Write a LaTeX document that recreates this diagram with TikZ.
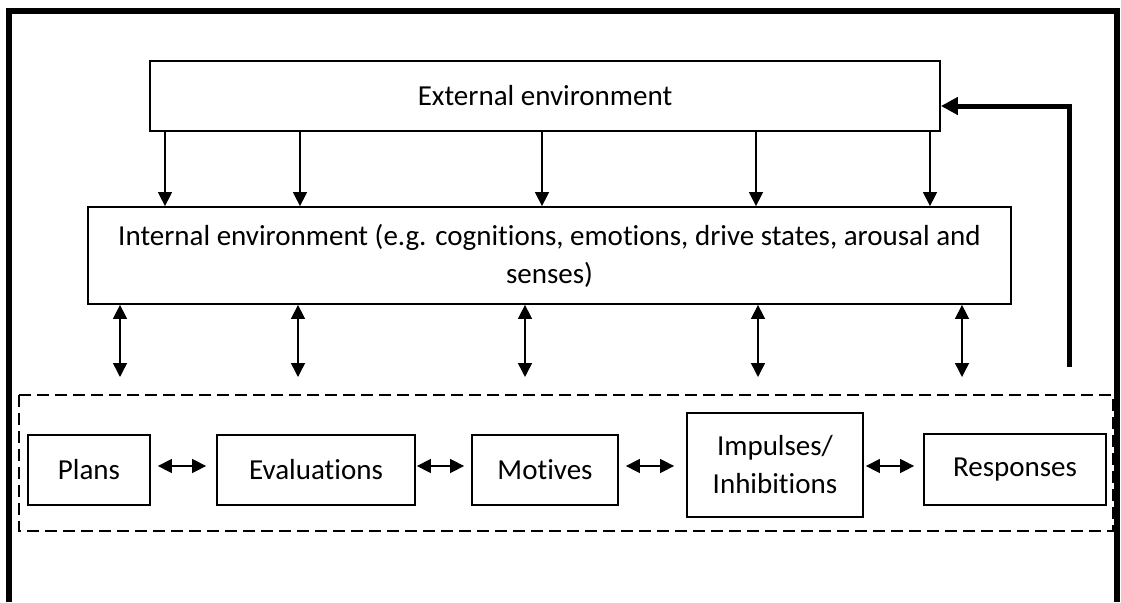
\documentclass[tikz,border=0pt]{standalone}
\usepackage{fontspec}
\setmainfont{Carlito}[Ligatures={NoCommon,NoContextual}]
\usetikzlibrary{arrows.meta,calc}
\begin{document}
\begin{tikzpicture}[x=1pt,y=-1pt,
  box/.style={draw,line width=1.8pt,inner sep=0pt,align=center,
    font=\fontsize{29}{38}\selectfont},
  thinline/.style={line width=1.5pt},
  tipend/.style={-{Triangle[length=14pt,width=14pt]}},
  tipboth/.style={{Triangle[length=14pt,width=14pt]}-{Triangle[length=14pt,width=14pt]}},
  frame/.style={line width=6pt},
  feedback/.style={line width=5pt,-{Triangle[length=17pt,width=17pt]}},
  group/.style={line width=2.5pt,dash pattern=on 12pt off 6pt},
]
\useasboundingbox (0,0) rectangle (1121,602);
\fill[white] (0,0) rectangle (1121,602);

% open outer frame
\draw[frame] (8.5,602) -- (8.5,11) -- (1117,11) -- (1117,602);

% dashed grouping of the process boxes
\draw[group] (19,395) rectangle (1113,531);

% environment boxes
\node[box,minimum width=790pt,minimum height=70pt] (ext) at (545,96) {External environment};
\node[box,minimum width=923pt,minimum height=97pt] (int) at (549.5,255.5)
  {Internal environment (e.g. cognitions, emotions, drive states, arousal and\\senses)};

% process boxes
\node[box,minimum width=122pt,minimum height=70pt] (plans) at (89,470) {Plans};
\node[box,minimum width=198pt,minimum height=70pt] (eval) at (316,470) {Evaluations};
\node[box,minimum width=146pt,minimum height=70pt] (mot) at (545,470) {Motives};
\node[box,minimum width=176pt,minimum height=104pt] (imp) at (775,465) {Impulses/\\Inhibitions};
\node[box,minimum width=182pt,minimum height=71pt] (resp) at (1015,469.5) {Responses};

% external -> internal
\foreach \x [count=\i] in {165,300,542,756,930} {
  \coordinate (dn\i) at (\x,0);
  \draw[thinline,tipend] (ext.south -| dn\i) -- (int.north -| dn\i);
}

% internal <-> process layer
\foreach \x [count=\i] in {120,298,525,758,962} {
  \coordinate (up\i) at (\x,377);
  \draw[thinline,tipboth] (int.south -| up\i) -- (up\i);
}

% links between process boxes
\draw[thinline,tipboth] ([xshift=7pt,yshift=4pt]plans.east) -- ([xshift=-10pt,yshift=4pt]eval.west);
\draw[thinline,tipboth] ([xshift=1pt,yshift=4pt]eval.east) -- ([xshift=-7pt,yshift=4pt]mot.west);
\draw[thinline,tipboth] ([xshift=7pt,yshift=4pt]mot.east) -- ([xshift=-12pt,yshift=-1pt]imp.west);
\draw[thinline,tipboth] ([xshift=2pt,yshift=-1pt]imp.east) -- ([xshift=-9pt,yshift=3.5pt]resp.west);

% feedback to the external environment
\coordinate (fb) at (1069.5,367);
\draw[feedback] (fb) |- ([yshift=-10pt]ext.east);
\end{tikzpicture}
\end{document}
